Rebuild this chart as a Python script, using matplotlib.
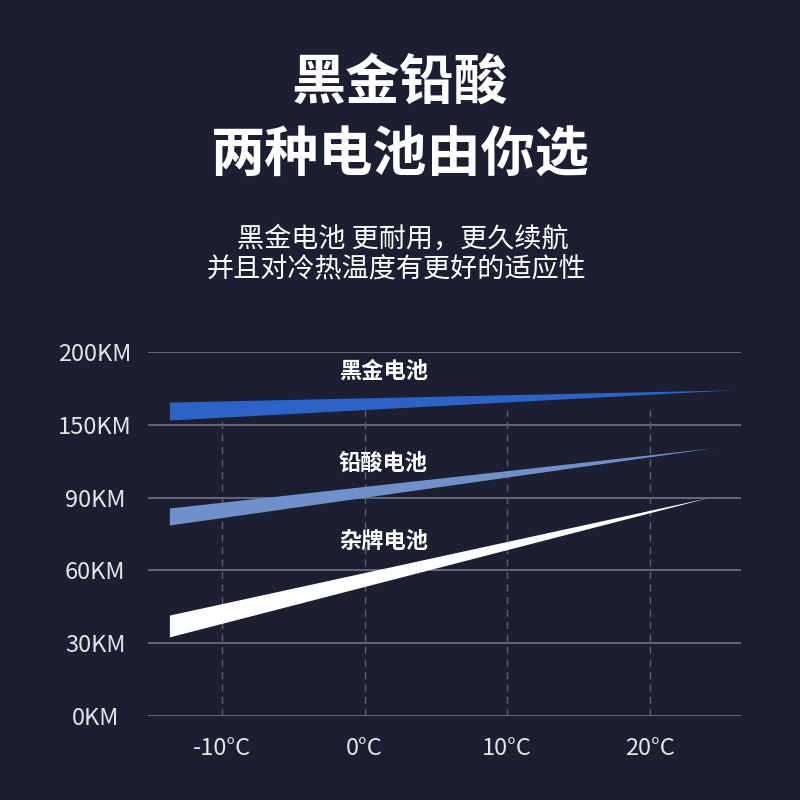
import numpy as np
import matplotlib
matplotlib.use("Agg")
import matplotlib.pyplot as plt

plt.rcParams['font.family'] = ['Noto Sans CJK SC', 'DejaVu Sans']

# 数据
y_ticks_km = [0, 30, 60, 90, 150, 200]
y_tick_labels = ["0KM", "30KM", "60KM", "90KM", "150KM", "200KM"]
x_ticks = [-10, 0, 10, 20]
x_tick_labels = ["-10°C", "0°C", "10°C", "20°C"]

names = ["黑金电池", "铅酸电池", "杂牌电池"]
temp_start = -13.7
temp_tip = [25.8, 24.4, 24.1]
km_upper = [165.6, 85.7, 41.6]
km_lower = [153.3, 78.7, 32.6]
km_tip = [174, 131, 90]
colors = ["#2d63c6", "#6f90c8", "#ffffff"]

bg = "#1c1f31"
idx = np.arange(len(y_ticks_km))

def fwd(v):
    return np.interp(v, y_ticks_km, idx)

def inv(v):
    return np.interp(v, idx, y_ticks_km)

fig = plt.figure(figsize=(8, 8), dpi=100, facecolor=bg)
ax = fig.add_axes([148/800, 1 - 716/800, (741-148)/800, (716-352)/800])
ax.set_facecolor(bg)
ax.set_yscale('function', functions=(fwd, inv))
ax.set_ylim(0, 200)
ax.set_xlim(-15.2, 26.4)

for s in ax.spines.values():
    s.set_visible(False)

# 网格
for v in y_ticks_km:
    ax.axhline(v, color="#70748a", lw=1.2, zorder=1)
for t in x_ticks:
    ax.axvline(t, ymin=0, ymax=(716-410)/364, color="#5c6175", lw=1,
               ls=(0, (5, 4)), zorder=1)

# 电池曲线
for i in range(3):
    ax.fill_between([temp_start, temp_tip[i]], [km_lower[i], km_tip[i]],
                    [km_upper[i], km_tip[i]], color=colors[i], lw=0, zorder=3)

label_y = [187, 118, 72]
for i in range(3):
    ax.text(1.3, label_y[i], names[i], color="white", fontsize=16,
            fontweight="bold", ha="center", va="center", zorder=4)

ax.set_yticks(y_ticks_km)
ax.set_yticklabels(y_tick_labels, ha="center")
ax.set_xticks(x_ticks)
ax.set_xticklabels(x_tick_labels)
ax.tick_params(axis='y', length=0, pad=38, labelsize=17, labelcolor="#e4e5ea")
ax.tick_params(axis='x', length=0, pad=15, labelsize=17, labelcolor="#e4e5ea")
ax.minorticks_off()

# 标题
fig.text(0.5, 1 - 83/800, "黑金铅酸", color="white", fontsize=39,
         fontweight="bold", ha="center", va="center")
fig.text(0.5, 1 - 156/800, "两种电池由你选", color="white", fontsize=39,
         fontweight="bold", ha="center", va="center")
fig.text(403/800, 1 - 239/800, "黑金电池 更耐用，更久续航", color="white",
         fontsize=19.5, ha="center", va="center")
fig.text(397/800, 1 - 270/800, "并且对冷热温度有更好的适应性", color="white",
         fontsize=19.5, ha="center", va="center")

fig.savefig("out.png", dpi=100, facecolor=bg)
